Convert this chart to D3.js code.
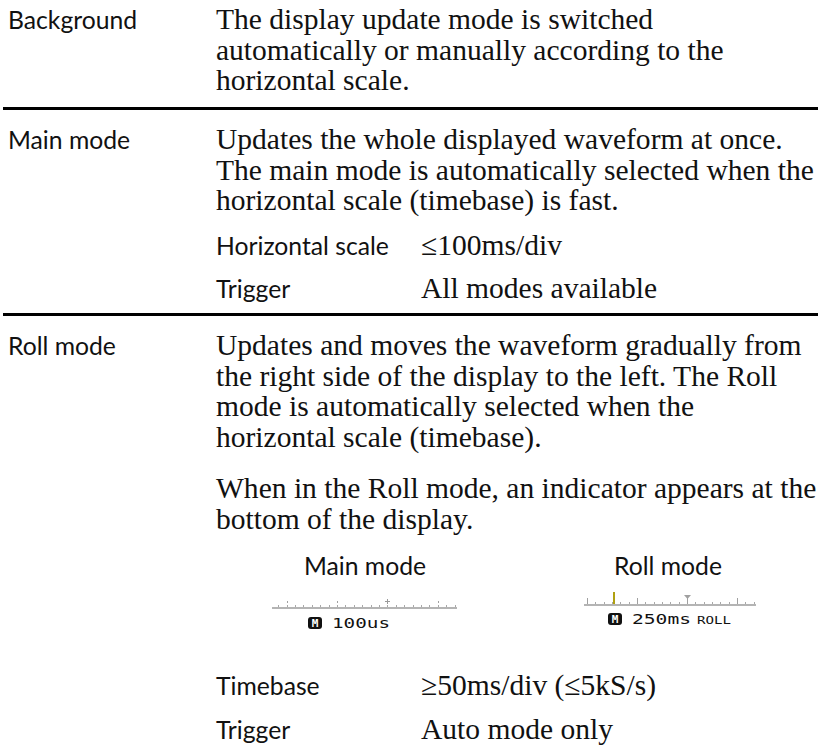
<!DOCTYPE html>
<html><head><meta charset="utf-8">
<script src="https://cdn.jsdelivr.net/npm/d3@7"></script>
<style>body{margin:0;background:#fff}</style>
</head><body>
<svg id="c" width="818" height="748"></svg>
<script>
// ---- content (text data) ----
const sectionLabels = ["Background", "Main mode", "Roll mode"];
const backgroundText = ["The display update mode is switched", "automatically or manually according to the", "horizontal scale."];
const mainText = ["Updates the whole displayed waveform at once.", "The main mode is automatically selected when the", "horizontal scale (timebase) is fast."];
const mainSpecLabels = ["Horizontal scale", "Trigger"];
const mainSpecValues = ["\u2264100ms/div", "All modes available"];
const rollText = ["Updates and moves the waveform gradually from", "the right side of the display to the left. The Roll", "mode is automatically selected when the", "horizontal scale (timebase)."];
const rollNote = ["When in the Roll mode, an indicator appears at the", "bottom of the display."];
const indicatorCaptions = ["Main mode", "Roll mode"];
const indicatorTimebase = ["100us", "250ms"];
const indicatorSuffix = ["", "ROLL"];
const rollSpecLabels = ["Timebase", "Trigger"];
const rollSpecValues = ["\u226550ms/div (\u22645kS/s)", "Auto mode only"];
// indicator strip: division positions (in divisions)
const mainStripDomain = [-0.29, 3.38];
const rollStripDomain = [-0.06, 3.38];
const majorDivs = [0, 1, 2, 3];
const triggerDiv = 2;
const rollMarkerDiv = 0.52;

// ---- drawing ----
const svg = d3.select("#c");
const SERIF = "'Liberation Serif', 'DejaVu Serif', serif";
const SANS = "Lato, 'Open Sans', sans-serif";
const INK = "#111";

function fitSize(family, sample, target) {
  const t = svg.append("text").attr("font-family", family).attr("font-size", 100).text(sample);
  const w = t.node().getComputedTextLength();
  t.remove();
  return 100 * target / w;
}
const serifSize = fitSize(SERIF, "The main mode is automatically selected when the", 598);
const sansSize = fitSize(SANS, "Horizontal scale", 173);

const colLabel = 8, colText = 216, colValue = 421;
const lh = 30.5;

function para(lines, x, y0) {
  svg.append("g").selectAll("text").data(lines).join("text")
    .attr("x", x).attr("y", (d, i) => y0 + i * lh)
    .attr("font-family", SERIF).attr("font-size", serifSize).attr("fill", INK)
    .text(d => d);
}
function label(t, x, y, anchor) {
  svg.append("text").attr("x", x).attr("y", y).attr("text-anchor", anchor || "start")
    .attr("font-family", SANS).attr("font-size", sansSize).attr("fill", INK).text(t);
}
function specRows(labels, values, ys) {
  labels.forEach((l, i) => {
    label(l, colText, ys[i]);
    svg.append("text").attr("x", colValue).attr("y", ys[i])
      .attr("font-family", SERIF).attr("font-size", serifSize).attr("fill", INK).text(values[i]);
  });
}
function rule(y) {
  svg.append("rect").attr("x", 3).attr("y", y).attr("width", 815).attr("height", 3).attr("fill", "#000");
}

// Background
label(sectionLabels[0], colLabel, 29);
para(backgroundText, colText, 29);
rule(107);
// Main mode
label(sectionLabels[1], colLabel, 149);
para(mainText, colText, 149);
specRows(mainSpecLabels, mainSpecValues, [255, 298]);
rule(313);
// Roll mode
label(sectionLabels[2], colLabel, 355);
para(rollText, colText, 355);
para(rollNote, colText, 498);

// indicator captions
label(indicatorCaptions[0], 365, 575, "middle");
label(indicatorCaptions[1], 668, 575, "middle");

function strip(domain, range, lineY, opts) {
  const x = d3.scaleLinear().domain(domain).range(range);
  const g = svg.append("g");
  g.append("rect").attr("x", range[0]).attr("y", lineY).attr("width", range[1] - range[0]).attr("height", 2).attr("fill", "#b4b4b4");
  const minor = d3.range(Math.ceil(domain[0] * 6), Math.floor(domain[1] * 6) + 1).map(k => k / 6);
  g.selectAll(".mn").data(minor).join("rect")
    .attr("x", d => Math.round(x(d))).attr("y", lineY - 2).attr("width", 1).attr("height", 2).attr("fill", "#a8a8a8");
  g.selectAll(".mj").data(majorDivs.filter(d => d !== triggerDiv)).join("rect")
    .attr("x", d => Math.round(x(d))).attr("y", lineY - 6).attr("width", 1).attr("height", opts.roll ? 6 : 2).attr("fill", "#a0a0a0");
  if (!opts.roll) {
    const cx = Math.round(x(triggerDiv));
    g.append("rect").attr("x", cx).attr("y", lineY - 8).attr("width", 1).attr("height", 5).attr("fill", "#9a9a9a");
    g.append("rect").attr("x", cx - 2).attr("y", lineY - 6).attr("width", 5).attr("height", 1).attr("fill", "#9a9a9a");
  } else {
    const cx = Math.round(x(triggerDiv));
    g.append("path").attr("d", `M${cx - 3},${lineY - 9}h7l-3.5,4z`).attr("fill", "#a0a0a0");
    g.append("rect").attr("x", cx).attr("y", lineY - 6).attr("width", 1).attr("height", 6).attr("fill", "#a0a0a0");
    g.append("rect").attr("x", Math.round(x(rollMarkerDiv))).attr("y", lineY - 12).attr("width", 2).attr("height", 12).attr("fill", "#b0a010");
  }
  return x;
}
strip(mainStripDomain, [272, 457], 607, {roll: false});
strip(rollStripDomain, [584, 756], 604, {roll: true});

function badge(x, y, tb, tbW, suffix) {
  const g = svg.append("g");
  g.append("rect").attr("x", x).attr("y", y - 11).attr("width", 14).attr("height", 12).attr("rx", 3).attr("fill", "#111");
  g.append("text").attr("x", x + 7).attr("y", y - 1).attr("text-anchor", "middle")
    .attr("font-family", "'DejaVu Sans Mono', monospace").attr("font-weight", "bold").attr("font-size", 11).attr("fill", "#fff").text("M");
  g.append("text").attr("x", x + 24).attr("y", y)
    .attr("font-family", "'DejaVu Sans Mono', monospace").attr("font-size", 14).attr("fill", "#111")
    .attr("textLength", tbW).attr("lengthAdjust", "spacingAndGlyphs").text(tb);
  if (suffix) {
    g.append("text").attr("x", x + 24 + tbW + 6).attr("y", y)
      .attr("font-family", "'DejaVu Sans Mono', monospace").attr("font-size", 10).attr("fill", "#111")
      .attr("textLength", 34).attr("lengthAdjust", "spacingAndGlyphs").text(suffix);
  }
}
badge(308, 628, indicatorTimebase[0], 58, indicatorSuffix[0]);
badge(608, 624, indicatorTimebase[1], 59, indicatorSuffix[1]);

specRows(rollSpecLabels, rollSpecValues, [695, 739]);
</script>
</body></html>
